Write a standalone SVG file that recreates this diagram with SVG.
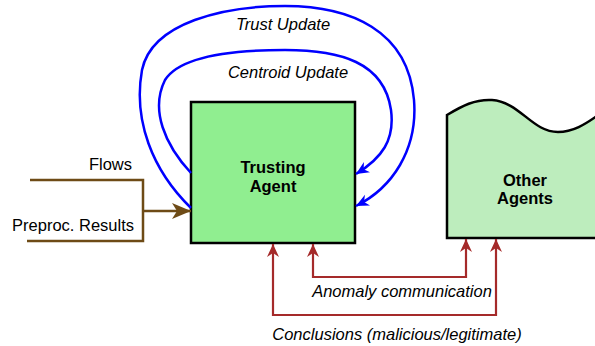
<svg xmlns="http://www.w3.org/2000/svg" width="595" height="346" viewBox="0 0 595 346">
  <defs>
    <style>
      text { font-family: "Liberation Sans", Arial, Helvetica, sans-serif; font-size: 16.5px; fill: #000; }
      .lbl { font-style: italic; }
      .name { font-weight: bold; }
      .blue { fill: none; stroke: #0000ff; stroke-width: 2.5; }
      .feed { fill: none; stroke: #6e4b16; stroke-width: 2.5; }
      .red { fill: none; stroke: #a52a2a; stroke-width: 2.2; }
    </style>
    <marker id="ahBlue" markerUnits="userSpaceOnUse" markerWidth="16" markerHeight="14" refX="13" refY="6" orient="auto">
      <path d="M0,0 L13,6 L0,12 L4,6 Z" fill="#0000ff"/>
    </marker>
    <marker id="ahBrown" markerUnits="userSpaceOnUse" markerWidth="22" markerHeight="20" refX="19" refY="8" orient="auto">
      <path d="M0,0 L19,8 L0,16 L5,8 Z" fill="#6e4b16"/>
    </marker>
    <marker id="ahRed" markerUnits="userSpaceOnUse" markerWidth="16" markerHeight="14" refX="13" refY="6" orient="auto">
      <path d="M0,0 L13,6 L0,12 L4,6 Z" fill="#a52a2a"/>
    </marker>
  </defs>

  <g id="trusting-agent">
    <rect x="191" y="102" width="164" height="141" fill="#90ee90" stroke="#000" stroke-width="2.5"/>
    <text class="name" x="273" y="173" text-anchor="middle">Trusting</text>
    <text class="name" x="273" y="192" text-anchor="middle">Agent</text>
  </g>

  <g id="other-agents">
    <path d="M447,238 L447,115 C462,106 475,99 492,100 C520,102 532,132 558,132 C575,132 588,122 597,116 L597,238 Z" fill="#bdedbd" stroke="#000" stroke-width="2.5"/>
    <text class="name" x="525" y="186" text-anchor="middle">Other</text>
    <text class="name" x="525" y="204" text-anchor="middle">Agents</text>
  </g>

  <g id="connectors">
    <!-- inputs -->
    <path class="feed" d="M30,180 L143,180 L143,241 L27,241"/>
    <path class="feed" d="M143,211 L191,211" marker-end="url(#ahBrown)"/>
    <!-- self loops -->
    <path class="blue" d="M191,208 C152,170 133,120 142,70 C152,22 225,6 285,6 C350,6 408,30 414,100 C418,150 392,188 356,206" marker-end="url(#ahBlue)"/>
    <path class="blue" d="M191,173 C165,145 150,110 165,80 C180,56 230,50 285,50 C340,50 384,62 391,110 C395,140 382,158 356,174" marker-end="url(#ahBlue)"/>
    <!-- exchanges with other agents -->
    <path class="red" d="M313,277 L466,277 L466,239" marker-end="url(#ahRed)"/>
    <path class="red" d="M466,277 L313,277 L313,244" marker-end="url(#ahRed)"/>
    <path class="red" d="M273,315 L496,315 L496,239" marker-end="url(#ahRed)"/>
    <path class="red" d="M496,315 L273,315 L273,244" marker-end="url(#ahRed)"/>
  </g>

  <g id="labels">
    <text x="132" y="170" text-anchor="end">Flows</text>
    <text x="134" y="231" text-anchor="end">Preproc. Results</text>
    <text class="lbl" x="283" y="30" text-anchor="middle">Trust Update</text>
    <text class="lbl" x="288" y="78" text-anchor="middle">Centroid Update</text>
    <text class="lbl" x="402" y="297" text-anchor="middle">Anomaly communication</text>
    <text class="lbl" x="397" y="340" text-anchor="middle">Conclusions (malicious/legitimate)</text>
  </g>
</svg>
